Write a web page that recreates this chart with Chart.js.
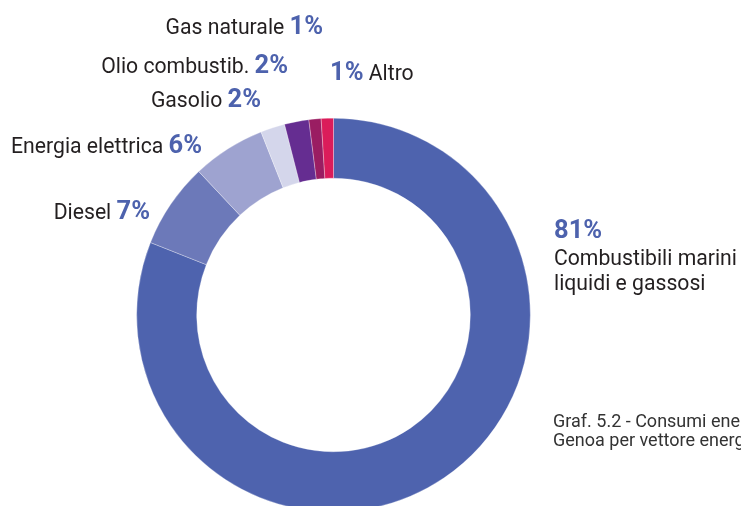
<!DOCTYPE html>
<html>
<head>
<meta charset="utf-8">
<script src="https://cdn.jsdelivr.net/npm/chart.js"></script>
<style>
  html, body { margin: 0; padding: 0; background: #fff; overflow: hidden; }
  #wrap { position: relative; width: 741px; height: 520px; }
</style>
</head>
<body>
<div id="wrap"><canvas id="chart"></canvas></div>
<script>
// Data (clockwise from 12 o'clock)
const labels = [
  'Combustibili marini liquidi e gassosi',
  'Diesel',
  'Energia elettrica',
  'Gasolio',
  'Olio combustib.',
  'Gas naturale',
  'Altro'
]
const values = [81, 7, 6, 2, 2, 1, 1]
const colors = ['#4e63ae', '#6c79b9', '#9ea3d0', '#d4d6eb', '#652d91', '#9a1d62', '#db1c5a']
const caption = ['Graf. 5.2 - Consumi energetici del Porto di', 'Genoa per vettore energetico']

const TEXT = '#231f20'
const BLUE = '#4d62ad'
const FONT = 'Roboto, "Noto Sans", sans-serif'

// where each label goes: x, baseline y, alignment, layout
const labelSpots = [
  { x: 554, y: 238, mode: 'block' },
  { x: 150, y: 219, align: 'right' },
  { x: 202, y: 153, align: 'right' },
  { x: 261, y: 107, align: 'right' },
  { x: 288, y: 73, align: 'right' },
  { x: 323, y: 34, align: 'right' },
  { x: 330, y: 80, align: 'left', pctFirst: true }
]

const labelPlugin = {
  id: 'sliceLabels',
  afterDraw(chart) {
    const ctx = chart.ctx
    const total = values.reduce((a, b) => a + b, 0)
    ctx.save()
    ctx.textBaseline = 'alphabetic'
    labels.forEach((name, i) => {
      const spot = labelSpots[i]
      const pct = Math.round(values[i] / total * 100) + '%'
      const pctFont = `bold 25.5px ${FONT}`
      const nameFont = `21.2px ${FONT}`
      if (spot.mode === 'block') {
        ctx.textAlign = 'left'
        ctx.font = pctFont
        ctx.fillStyle = BLUE
        ctx.fillText(pct, spot.x, spot.y)
        ctx.font = nameFont
        ctx.fillStyle = TEXT
        ctx.fillText('Combustibili marini', spot.x, spot.y + 27)
        ctx.fillText('liquidi e gassosi', spot.x, spot.y + 52)
        return
      }
      ctx.font = nameFont
      const nameW = ctx.measureText(name + ' ').width
      ctx.font = pctFont
      const pctW = ctx.measureText(pct).width
      ctx.textAlign = 'left'
      if (spot.pctFirst) {
        ctx.fillStyle = BLUE
        ctx.font = pctFont
        ctx.fillText(pct, spot.x, spot.y)
        ctx.font = nameFont
        const sp = ctx.measureText(' ').width
        ctx.fillStyle = TEXT
        ctx.fillText(name, spot.x + pctW + sp, spot.y)
      } else {
        const start = spot.x - pctW - nameW
        ctx.font = nameFont
        ctx.fillStyle = TEXT
        ctx.fillText(name, start, spot.y)
        ctx.font = pctFont
        ctx.fillStyle = BLUE
        ctx.fillText(pct, start + nameW, spot.y)
      }
    })
    // caption
    ctx.font = `18px ${FONT}`
    ctx.fillStyle = '#333'
    ctx.textAlign = 'left'
    ctx.fillText(caption[0], 553, 427)
    ctx.fillText(caption[1], 553, 446)
    ctx.restore()
  }
}

new Chart(document.getElementById('chart'), {
  type: 'doughnut',
  data: {
    labels: labels,
    datasets: [{
      data: values,
      backgroundColor: colors,
      borderColor: '#ffffff',
      borderWidth: 0.3
    }]
  },
  options: {
    responsive: true,
    maintainAspectRatio: false,
    animation: false,
    cutout: '69.5%',
    layout: { padding: { left: 136.5, right: 210.5, top: 118, bottom: 8 } },
    plugins: {
      legend: { display: false },
      tooltip: { enabled: false }
    }
  },
  plugins: [labelPlugin]
})
</script>
</body>
</html>
